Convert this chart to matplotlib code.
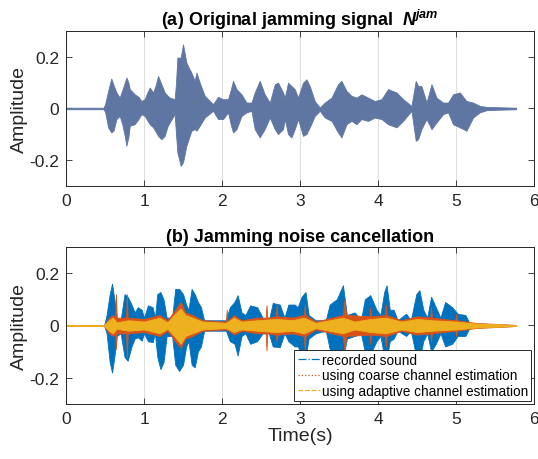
import matplotlib
matplotlib.use("Agg")
import matplotlib.pyplot as plt
from matplotlib.lines import Line2D

plt.rcParams["font.family"] = ["Liberation Sans", "DejaVu Sans"]
plt.rcParams["mathtext.fontset"] = "custom"
plt.rcParams["mathtext.it"] = "Liberation Sans:italic"
plt.rcParams["mathtext.bfit"] = "Liberation Sans:bold:italic"
plt.rcParams["mathtext.bf"] = "Liberation Sans:bold"

# (a) jamming signal envelope: time, upper, lower
jam_t = [0.00, 0.48, 0.50, 0.54, 0.58, 0.61, 0.646, 0.688, 0.72, 0.753, 0.774, 0.80, 0.817, 0.881,
         0.93, 0.966, 1.009, 1.04, 1.073, 1.116, 1.15, 1.18, 1.223, 1.265, 1.30, 1.329, 1.393, 1.41,
         1.428, 1.47, 1.50, 1.543, 1.57, 1.607, 1.65, 1.672, 1.714, 1.778, 1.84, 1.885, 1.949, 2.013,
         2.077, 2.11, 2.141, 2.185, 2.249, 2.313, 2.377, 2.419, 2.483, 2.547, 2.612, 2.676, 2.718,
         2.782, 2.804, 2.846, 2.89, 2.932, 2.974, 3.038, 3.082, 3.124, 3.188, 3.253, 3.317, 3.403,
         3.487, 3.531, 3.595, 3.659, 3.723, 3.787, 3.872, 3.958, 4.044, 4.128, 4.236, 4.321, 4.428,
         4.483, 4.513, 4.556, 4.621, 4.685, 4.749, 4.833, 4.897, 4.962, 5.047, 5.133, 5.218, 5.304,
         5.40, 5.77]
jam_up = [0.003, 0.003, 0.015, 0.068, 0.116, 0.09, 0.062, 0.042, 0.07, 0.10, 0.12, 0.10, 0.075, 0.055,
          0.045, 0.029, 0.036, 0.06, 0.081, 0.062, 0.09, 0.126, 0.094, 0.062, 0.05, 0.042, 0.036, 0.10,
          0.197, 0.197, 0.248, 0.178, 0.16, 0.139, 0.107, 0.139, 0.10, 0.049, 0.03, 0.017, 0.045, 0.036,
          0.036, 0.07, 0.107, 0.075, 0.055, 0.023, 0.023, 0.062, 0.107, 0.055, 0.023, 0.094, 0.10,
          0.062, 0.042, 0.10, 0.087, 0.075, 0.042, 0.10, 0.113, 0.087, 0.029, 0.004, 0.023, 0.042,
          0.094, 0.107, 0.068, 0.049, 0.042, 0.055, 0.042, 0.029, 0.036, 0.075, 0.062, 0.036, 0.01,
          0.107, 0.087, 0.087, 0.023, 0.094, 0.042, 0.023, 0.023, 0.055, 0.062, 0.029, 0.023, 0.01,
          0.006, 0.003]
jam_lo = [-0.003, -0.003, -0.012, -0.073, -0.093, -0.085, -0.041, -0.029, -0.06, -0.106, -0.144, -0.11,
          -0.067, -0.061, -0.04, -0.022, -0.029, -0.045, -0.061, -0.073, -0.09, -0.106, -0.119, -0.106,
          -0.07, -0.054, -0.022, -0.10, -0.17, -0.222, -0.208, -0.144, -0.12, -0.086, -0.08, -0.086,
          -0.067, -0.035, -0.02, -0.009, -0.041, -0.041, -0.015, -0.06, -0.093, -0.08, -0.029, -0.015,
          -0.009, -0.08, -0.112, -0.08, -0.035, -0.08, -0.099, -0.08, -0.041, -0.099, -0.112, -0.08,
          -0.041, -0.106, -0.099, -0.073, -0.029, -0.009, -0.035, -0.048, -0.093, -0.112, -0.061,
          -0.048, -0.061, -0.041, -0.048, -0.035, -0.041, -0.061, -0.073, -0.048, -0.009, -0.125,
          -0.119, -0.08, -0.041, -0.08, -0.054, -0.022, -0.015, -0.061, -0.073, -0.086, -0.035, -0.015,
          -0.006, -0.003]

# (b) recorded sound envelope
rec_t = [0.00, 0.49, 0.52, 0.56, 0.59, 0.62, 0.65, 0.70, 0.75, 0.79, 0.84, 0.88, 0.92, 0.97, 1.00,
         1.05, 1.11, 1.14, 1.17, 1.21, 1.25, 1.29, 1.36, 1.40, 1.45, 1.50, 1.54, 1.57, 1.61, 1.65,
         1.69, 1.73, 1.77, 2.05, 2.10, 2.16, 2.20, 2.25, 2.30, 2.36, 2.45, 2.52, 2.60, 2.65, 2.74,
         2.80, 2.85, 2.93, 2.97, 3.02, 3.07, 3.11, 3.20, 3.33, 3.38, 3.47, 3.55, 3.60, 3.70, 3.78,
         3.83, 3.90, 3.98, 4.03, 4.08, 4.11, 4.15, 4.20, 4.25, 4.36, 4.42, 4.49, 4.53, 4.58, 4.63,
         4.68, 4.74, 4.80, 4.86, 4.95, 5.02, 5.12, 5.17, 5.30, 5.77]
rec_up = [0.002, 0.002, 0.04, 0.12, 0.16, 0.10, 0.03, 0.02, 0.12, 0.11, 0.08, 0.05, 0.07, 0.06, 0.03,
          0.077, 0.07, 0.03, 0.12, 0.128, 0.10, 0.03, 0.03, 0.14, 0.14, 0.12, 0.08, 0.06, 0.14, 0.12,
          0.09, 0.07, 0.02, 0.02, 0.07, 0.09, 0.116, 0.05, 0.04, 0.077, 0.07, 0.03, 0.02, 0.086, 0.08,
          0.03, 0.08, 0.08, 0.07, 0.11, 0.128, 0.04, 0.02, 0.02, 0.08, 0.10, 0.154, 0.04, 0.05, 0.02,
          0.10, 0.116, 0.06, 0.04, 0.13, 0.154, 0.06, 0.06, 0.02, 0.045, 0.02, 0.12, 0.135, 0.06, 0.03,
          0.11, 0.07, 0.03, 0.09, 0.07, 0.045, 0.04, 0.01, 0.005, 0.002]
rec_lo = [-0.002, -0.002, -0.03, -0.14, -0.18, -0.12, -0.04, -0.03, -0.12, -0.135, -0.08, -0.05, -0.045,
          -0.058, -0.03, -0.06, -0.064, -0.03, -0.12, -0.167, -0.14, -0.04, -0.04, -0.15, -0.174, -0.15,
          -0.08, -0.06, -0.15, -0.16, -0.10, -0.08, -0.02, -0.02, -0.06, -0.07, -0.115, -0.04, -0.03,
          -0.07, -0.06, -0.03, -0.03, -0.08, -0.083, -0.03, -0.06, -0.08, -0.08, -0.11, -0.12, -0.05,
          -0.03, -0.02, -0.09, -0.12, -0.13, -0.05, -0.04, -0.03, -0.10, -0.11, -0.06, -0.04, -0.12,
          -0.13, -0.06, -0.05, -0.02, -0.04, -0.02, -0.12, -0.13, -0.06, -0.03, -0.10, -0.07, -0.03,
          -0.08, -0.07, -0.04, -0.04, -0.01, -0.005, -0.002]

# (b) after cancellation with coarse channel estimation (thin spikes poke out)
coarse_t = [0.00, 0.49, 0.55, 0.60, 0.63, 0.64, 0.65, 0.77, 0.78, 0.79, 1.00, 1.20, 1.30, 1.40, 1.47,
            1.53, 1.62, 1.75, 2.05, 2.06, 2.07, 2.15, 2.25, 2.45, 2.56, 2.57, 2.58, 2.69, 2.70, 2.71,
            2.90, 3.05, 3.06, 3.07, 3.20, 3.55, 3.57, 3.59, 3.89, 3.90, 3.91, 4.09, 4.10, 4.11, 4.30,
            4.50, 4.67, 4.68, 4.69, 4.99, 5.00, 5.01, 5.25, 5.77]
coarse_up = [0.002, 0.002, 0.03, 0.04, 0.03, 0.12, 0.03, 0.03, 0.12, 0.03, 0.025, 0.04, 0.02, 0.06,
             0.09, 0.05, 0.04, 0.02, 0.015, 0.06, 0.015, 0.04, 0.02, 0.03, 0.03, 0.077, 0.03, 0.035,
             0.08, 0.035, 0.03, 0.04, 0.08, 0.04, 0.015, 0.04, 0.10, 0.04, 0.035, 0.07, 0.035, 0.04,
             0.08, 0.04, 0.02, 0.035, 0.03, 0.07, 0.03, 0.02, 0.045, 0.02, 0.01, 0.002]
coarse_lo = [-0.002, -0.002, -0.03, -0.04, -0.03, -0.09, -0.03, -0.03, -0.12, -0.03, -0.025, -0.04,
             -0.02, -0.06, -0.085, -0.05, -0.04, -0.02, -0.015, -0.02, -0.015, -0.035, -0.02, -0.03,
             -0.03, -0.095, -0.03, -0.035, -0.06, -0.035, -0.03, -0.04, -0.10, -0.04, -0.015, -0.04,
             -0.10, -0.04, -0.035, -0.07, -0.035, -0.04, -0.08, -0.04, -0.02, -0.035, -0.03, -0.06,
             -0.03, -0.02, -0.04, -0.02, -0.01, -0.002]

# (b) after cancellation with adaptive channel estimation
adapt_t = [0.00, 0.49, 0.55, 0.60, 0.65, 0.80, 1.00, 1.20, 1.30, 1.40, 1.47, 1.53, 1.62, 1.75, 2.05,
           2.15, 2.25, 2.45, 2.70, 2.90, 3.05, 3.20, 3.55, 3.70, 3.90, 4.10, 4.30, 4.50, 4.70, 5.00,
           5.25, 5.77]
adapt_up = [0.002, 0.002, 0.02, 0.03, 0.012, 0.02, 0.015, 0.03, 0.012, 0.045, 0.065, 0.04, 0.03, 0.015,
            0.01, 0.03, 0.015, 0.02, 0.025, 0.02, 0.03, 0.01, 0.03, 0.015, 0.025, 0.03, 0.015, 0.025,
            0.02, 0.015, 0.008, 0.002]
adapt_lo = [-0.002, -0.002, -0.02, -0.03, -0.012, -0.02, -0.015, -0.03, -0.012, -0.045, -0.07, -0.04,
            -0.03, -0.015, -0.01, -0.025, -0.015, -0.02, -0.025, -0.02, -0.03, -0.01, -0.03, -0.015,
            -0.025, -0.03, -0.015, -0.025, -0.02, -0.015, -0.008, -0.002]

legend_labels = ["recorded sound", "using coarse channel estimation", "using adaptive channel estimation"]

C_JAM = "#5f76a2"
C_REC = "#0072BD"
C_COARSE = "#D95319"
C_ADAPT = "#EDB120"
C_AX = "#262626"


def style_axes(ax):
    ax.set_xlim(0, 6)
    ax.set_ylim(-0.3, 0.3)
    ax.set_xticks(range(7))
    ax.set_yticks([-0.2, 0, 0.2])
    ax.set_yticklabels(["-0.2", "0", "0.2"])
    ax.tick_params(direction="in", top=True, right=True, labelsize=12.5, colors=C_AX, length=4,
                   width=0.6, pad=5)
    ax.xaxis.grid(True, color="#dedede", lw=0.8)
    ax.set_axisbelow(True)
    for s in ax.spines.values():
        s.set_color(C_AX)
        s.set_linewidth(0.7)
    ax.set_ylabel("Amplitude", fontsize=14, color=C_AX, labelpad=1)


fig = plt.figure(figsize=(5.38, 4.60), dpi=100)
ax1 = fig.add_axes([0.1227, 0.5935, 0.8700, 0.3370])
ax2 = fig.add_axes([0.1227, 0.1196, 0.8700, 0.3413])

ax1.fill_between(jam_t, jam_lo, jam_up, color=C_JAM, lw=0.6, edgecolor=C_JAM)
style_axes(ax1)
ax1.set_title(r"(a) Original jamming signal  $\mathbfit{N}^{\mathbfit{jam}}$", fontsize=13,
              fontweight="bold", pad=4)

ax2.fill_between(rec_t, rec_lo, rec_up, color=C_REC, lw=0.6, edgecolor=C_REC)
ax2.fill_between(coarse_t, coarse_lo, coarse_up, color=C_COARSE, lw=0.6, edgecolor=C_COARSE)
ax2.fill_between(adapt_t, adapt_lo, adapt_up, color=C_ADAPT, lw=0.6, edgecolor=C_ADAPT)
style_axes(ax2)
ax2.set_title("(b) Jamming noise cancellation", fontsize=13, fontweight="bold", pad=4)
ax2.set_xlabel("Time(s)", fontsize=14, color=C_AX, labelpad=1)

handles = [Line2D([], [], color=C_REC, ls="-.", lw=0.9),
           Line2D([], [], color=C_COARSE, ls=":", lw=0.9),
           Line2D([], [], color=C_ADAPT, ls="--", lw=0.9)]
leg = ax2.legend(handles, legend_labels, loc="lower right", fontsize=9.8, frameon=True, fancybox=False,
                 framealpha=1, edgecolor=C_AX, handlelength=1.6, handletextpad=0.15,
                 borderaxespad=0.2, borderpad=0.25, labelspacing=0.1)
leg.get_frame().set_linewidth(0.7)

fig.savefig("out.png", dpi=100)
